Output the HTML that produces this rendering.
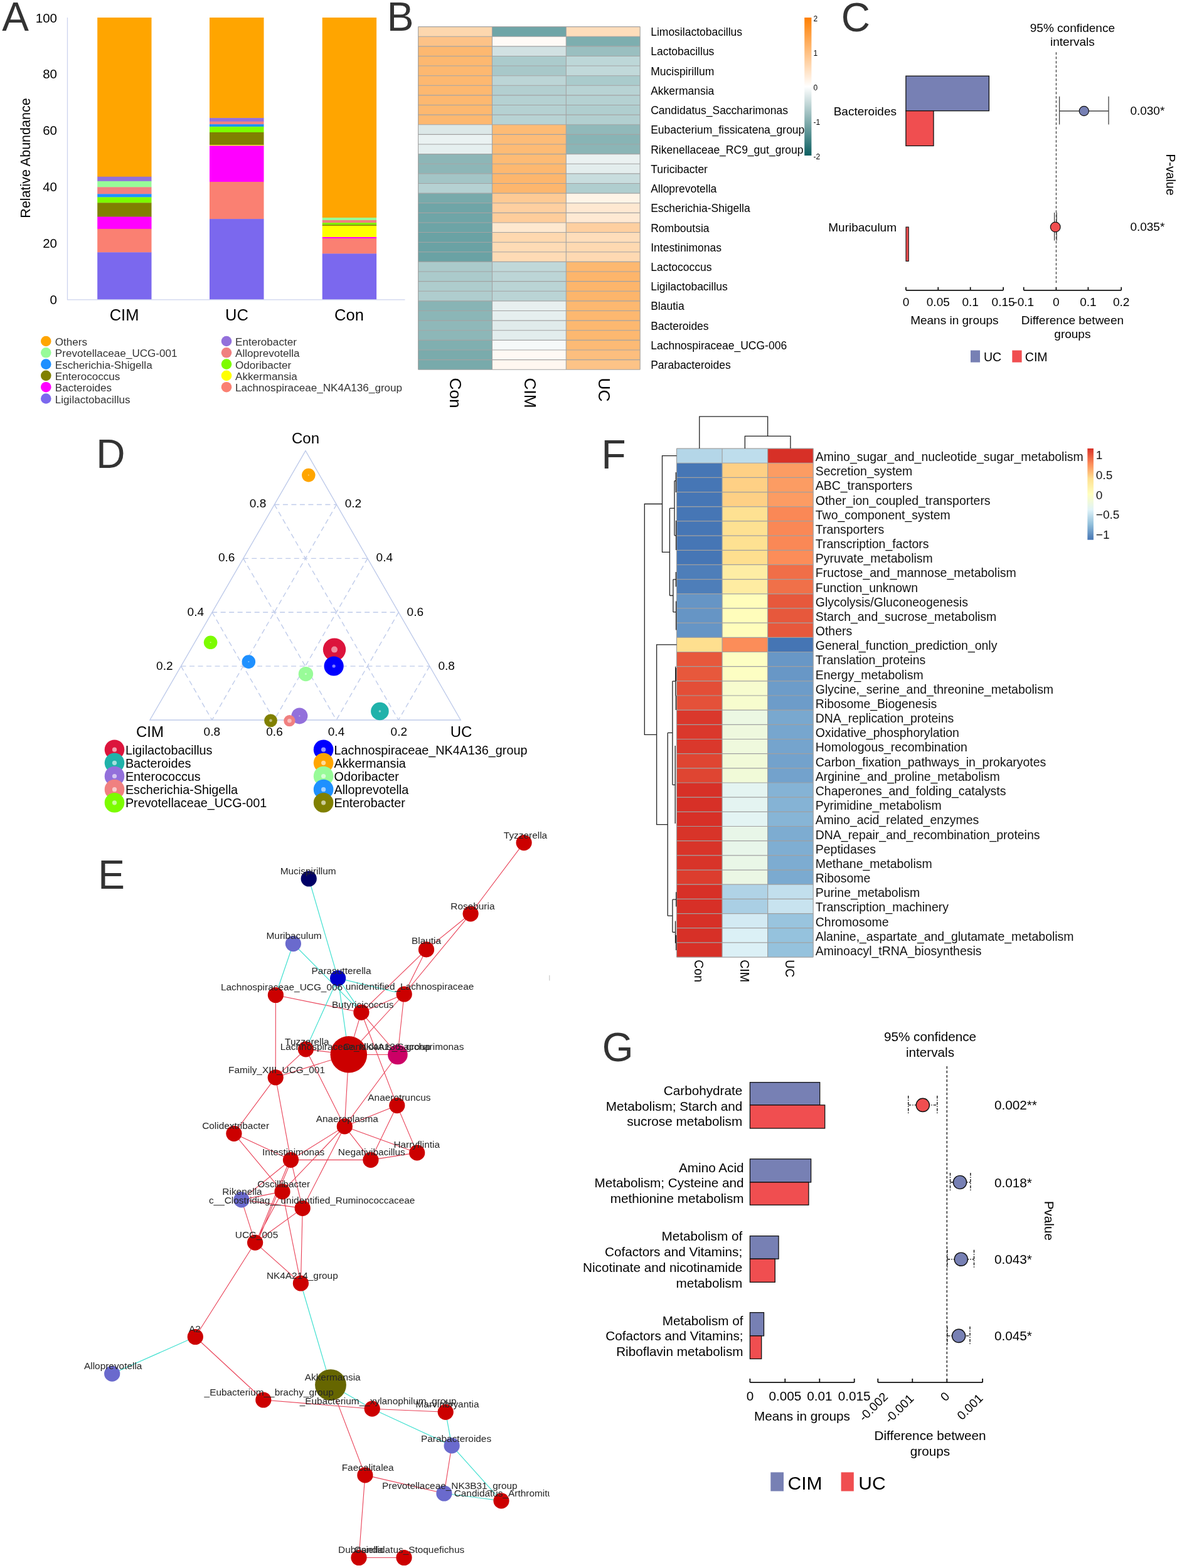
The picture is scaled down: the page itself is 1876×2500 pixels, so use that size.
<!DOCTYPE html>
<html><head><meta charset="utf-8"><title>Figure</title>
<style>
html,body{margin:0;padding:0;background:#fff;}
body{width:1876px;height:2500px;overflow:hidden;}
svg{display:block;}
text{dominant-baseline:central;}
</style></head><body>
<svg width="1876" height="2500" viewBox="0 0 1876 2500" font-family='"Liberation Sans", Arial, Helvetica, sans-serif' dominant-baseline="central">
<text x="24.6" y="48.7" font-size="64" text-anchor="middle" fill="#333" dominant-baseline="alphabetic" style="dominant-baseline:alphabetic">A</text>
<rect x="155.2" y="28" width="86.3" height="254" fill="#FFA500"/>
<rect x="155.2" y="281.7" width="86.3" height="7.4" fill="#9370DB"/>
<rect x="155.2" y="288.8" width="86.3" height="9.8" fill="#98FB98"/>
<rect x="155.2" y="298.3" width="86.3" height="11.3" fill="#F08080"/>
<rect x="155.2" y="309.3" width="86.3" height="5.4" fill="#1E90FF"/>
<rect x="155.2" y="314.4" width="86.3" height="9.2" fill="#7CFC00"/>
<rect x="155.2" y="323.3" width="86.3" height="22.6" fill="#808000"/>
<rect x="155.2" y="345.6" width="86.3" height="19.6" fill="#FF00FF"/>
<rect x="155.2" y="364.9" width="86.3" height="37.7" fill="#FA8072"/>
<rect x="155.2" y="402.3" width="86.3" height="75.5" fill="#7B68EE"/>
<rect x="334" y="28" width="86.5" height="160.4" fill="#FFA500"/>
<rect x="334" y="188.1" width="86.5" height="5.9" fill="#9370DB"/>
<rect x="334" y="193.7" width="86.5" height="4.7" fill="#F08080"/>
<rect x="334" y="198.1" width="86.5" height="4.1" fill="#1E90FF"/>
<rect x="334" y="201.9" width="86.5" height="9.3" fill="#7CFC00"/>
<rect x="334" y="210.9" width="86.5" height="20.5" fill="#808000"/>
<rect x="334" y="231.1" width="86.5" height="1.5" fill="#FFFF00"/>
<rect x="334" y="232.3" width="86.5" height="57.9" fill="#FF00FF"/>
<rect x="334" y="289.9" width="86.5" height="59.5" fill="#FA8072"/>
<rect x="334" y="349.1" width="86.5" height="128.7" fill="#7B68EE"/>
<rect x="513.7" y="28" width="86.4" height="319.3" fill="#FFA500"/>
<rect x="513.7" y="347" width="86.4" height="4.3" fill="#98FB98"/>
<rect x="513.7" y="351" width="86.4" height="4.5" fill="#F08080"/>
<rect x="513.7" y="355.2" width="86.4" height="3.4" fill="#7CFC00"/>
<rect x="513.7" y="358.3" width="86.4" height="1.9" fill="#808000"/>
<rect x="513.7" y="359.9" width="86.4" height="18.4" fill="#FFFF00"/>
<rect x="513.7" y="378" width="86.4" height="2.4" fill="#FF00FF"/>
<rect x="513.7" y="380.1" width="86.4" height="24.6" fill="#FA8072"/>
<rect x="513.7" y="404.4" width="86.4" height="73.4" fill="#7B68EE"/>
<line x1="107.5" y1="28" x2="107.5" y2="478" stroke="#ccd3ee" stroke-width="1.3"/>
<line x1="107" y1="477.8" x2="645.5" y2="477.8" stroke="#ccd3ee" stroke-width="1.3"/>
<text x="91" y="477.5" font-size="20.5" text-anchor="end">0</text>
<text x="91" y="387.6" font-size="20.5" text-anchor="end">20</text>
<text x="91" y="297.7" font-size="20.5" text-anchor="end">40</text>
<text x="91" y="207.8" font-size="20.5" text-anchor="end">60</text>
<text x="91" y="117.9" font-size="20.5" text-anchor="end">80</text>
<text x="91" y="28" font-size="20.5" text-anchor="end">100</text>
<text transform="translate(41.2 252) rotate(-90)" font-size="21.5" text-anchor="middle">Relative Abundance</text>
<text x="198" y="502" font-size="25.5" text-anchor="middle">CIM</text>
<text x="377.5" y="502" font-size="25.5" text-anchor="middle">UC</text>
<text x="556.5" y="502" font-size="25.5" text-anchor="middle">Con</text>
<circle cx="73.3" cy="544" r="8.3" fill="#FFA500"/>
<text x="87.8" y="545.6" font-size="17.1" fill="#333">Others</text>
<circle cx="73.3" cy="562.3" r="8.3" fill="#98FB98"/>
<text x="87.8" y="563.9" font-size="17.1" fill="#333">Prevotellaceae_UCG-001</text>
<circle cx="73.3" cy="580.6" r="8.3" fill="#1E90FF"/>
<text x="87.8" y="582.2" font-size="17.1" fill="#333">Escherichia-Shigella</text>
<circle cx="73.3" cy="598.9" r="8.3" fill="#808000"/>
<text x="87.8" y="600.5" font-size="17.1" fill="#333">Enterococcus</text>
<circle cx="73.3" cy="617.2" r="8.3" fill="#FF00FF"/>
<text x="87.8" y="618.8" font-size="17.1" fill="#333">Bacteroides</text>
<circle cx="73.3" cy="635.5" r="8.3" fill="#7B68EE"/>
<text x="87.8" y="637.1" font-size="17.1" fill="#333">Ligilactobacillus</text>
<circle cx="361" cy="544" r="8.3" fill="#9370DB"/>
<text x="375" y="545.6" font-size="17.1" fill="#333">Enterobacter</text>
<circle cx="361" cy="562.3" r="8.3" fill="#F08080"/>
<text x="375" y="563.9" font-size="17.1" fill="#333">Alloprevotella</text>
<circle cx="361" cy="580.6" r="8.3" fill="#7CFC00"/>
<text x="375" y="582.2" font-size="17.1" fill="#333">Odoribacter</text>
<circle cx="361" cy="598.9" r="8.3" fill="#FFFF00"/>
<text x="375" y="600.5" font-size="17.1" fill="#333">Akkermansia</text>
<circle cx="361" cy="617.2" r="8.3" fill="#FA8072"/>
<text x="375" y="618.8" font-size="17.1" fill="#333">Lachnospiraceae_NK4A136_group</text>
<text x="638" y="49.4" font-size="64" text-anchor="middle" fill="#333" dominant-baseline="alphabetic" style="dominant-baseline:alphabetic">B</text>
<rect x="666.6" y="42.6" width="117.87" height="15.62" fill="#FDD7AE"/>
<rect x="784.47" y="42.6" width="117.87" height="15.62" fill="#6FA5A7"/>
<rect x="902.33" y="42.6" width="117.87" height="15.62" fill="#FEDDBB"/>
<rect x="666.6" y="58.22" width="117.87" height="15.62" fill="#FDC287"/>
<rect x="784.47" y="58.22" width="117.87" height="15.62" fill="#FFFAF6"/>
<rect x="902.33" y="58.22" width="117.87" height="15.62" fill="#7DAEAF"/>
<rect x="666.6" y="73.83" width="117.87" height="15.62" fill="#FDB870"/>
<rect x="784.47" y="73.83" width="117.87" height="15.62" fill="#D1E1E2"/>
<rect x="902.33" y="73.83" width="117.87" height="15.62" fill="#9ABFC0"/>
<rect x="666.6" y="89.45" width="117.87" height="15.62" fill="#FDB870"/>
<rect x="784.47" y="89.45" width="117.87" height="15.62" fill="#ABCBCC"/>
<rect x="902.33" y="89.45" width="117.87" height="15.62" fill="#BDD7D8"/>
<rect x="666.6" y="105.07" width="117.87" height="15.62" fill="#FDB870"/>
<rect x="784.47" y="105.07" width="117.87" height="15.62" fill="#A8C8C9"/>
<rect x="902.33" y="105.07" width="117.87" height="15.62" fill="#C1D9DA"/>
<rect x="666.6" y="120.69" width="117.87" height="15.62" fill="#FDB870"/>
<rect x="784.47" y="120.69" width="117.87" height="15.62" fill="#BCD5D6"/>
<rect x="902.33" y="120.69" width="117.87" height="15.62" fill="#AACBCC"/>
<rect x="666.6" y="136.3" width="117.87" height="15.62" fill="#FDB870"/>
<rect x="784.47" y="136.3" width="117.87" height="15.62" fill="#B3CFD0"/>
<rect x="902.33" y="136.3" width="117.87" height="15.62" fill="#B8D3D4"/>
<rect x="666.6" y="151.92" width="117.87" height="15.62" fill="#FDB870"/>
<rect x="784.47" y="151.92" width="117.87" height="15.62" fill="#B5D1D2"/>
<rect x="902.33" y="151.92" width="117.87" height="15.62" fill="#B5D1D2"/>
<rect x="666.6" y="167.54" width="117.87" height="15.62" fill="#FDB870"/>
<rect x="784.47" y="167.54" width="117.87" height="15.62" fill="#B5D1D2"/>
<rect x="902.33" y="167.54" width="117.87" height="15.62" fill="#B0CECF"/>
<rect x="666.6" y="183.15" width="117.87" height="15.62" fill="#FDB870"/>
<rect x="784.47" y="183.15" width="117.87" height="15.62" fill="#B8D3D4"/>
<rect x="902.33" y="183.15" width="117.87" height="15.62" fill="#B2CFD0"/>
<rect x="666.6" y="198.77" width="117.87" height="15.62" fill="#DCE8E8"/>
<rect x="784.47" y="198.77" width="117.87" height="15.62" fill="#FDBB75"/>
<rect x="902.33" y="198.77" width="117.87" height="15.62" fill="#91B9BA"/>
<rect x="666.6" y="214.39" width="117.87" height="15.62" fill="#EAF2F2"/>
<rect x="784.47" y="214.39" width="117.87" height="15.62" fill="#FDBC78"/>
<rect x="902.33" y="214.39" width="117.87" height="15.62" fill="#88B4B5"/>
<rect x="666.6" y="230.01" width="117.87" height="15.62" fill="#E5EFEF"/>
<rect x="784.47" y="230.01" width="117.87" height="15.62" fill="#FDBB75"/>
<rect x="902.33" y="230.01" width="117.87" height="15.62" fill="#8BB5B6"/>
<rect x="666.6" y="245.62" width="117.87" height="15.62" fill="#8DB6B7"/>
<rect x="784.47" y="245.62" width="117.87" height="15.62" fill="#FDBB75"/>
<rect x="902.33" y="245.62" width="117.87" height="15.62" fill="#EAF1F1"/>
<rect x="666.6" y="261.24" width="117.87" height="15.62" fill="#8DB6B7"/>
<rect x="784.47" y="261.24" width="117.87" height="15.62" fill="#FDB870"/>
<rect x="902.33" y="261.24" width="117.87" height="15.62" fill="#E3EDED"/>
<rect x="666.6" y="276.86" width="117.87" height="15.62" fill="#A3C5C6"/>
<rect x="784.47" y="276.86" width="117.87" height="15.62" fill="#FDB66D"/>
<rect x="902.33" y="276.86" width="117.87" height="15.62" fill="#C8DDDE"/>
<rect x="666.6" y="292.47" width="117.87" height="15.62" fill="#B5D1D2"/>
<rect x="784.47" y="292.47" width="117.87" height="15.62" fill="#FDB66D"/>
<rect x="902.33" y="292.47" width="117.87" height="15.62" fill="#B0CECF"/>
<rect x="666.6" y="308.09" width="117.87" height="15.62" fill="#78AAAB"/>
<rect x="784.47" y="308.09" width="117.87" height="15.62" fill="#FECA94"/>
<rect x="902.33" y="308.09" width="117.87" height="15.62" fill="#FEF4E7"/>
<rect x="666.6" y="323.71" width="117.87" height="15.62" fill="#6FA5A7"/>
<rect x="784.47" y="323.71" width="117.87" height="15.62" fill="#FECFA0"/>
<rect x="902.33" y="323.71" width="117.87" height="15.62" fill="#FEE8D1"/>
<rect x="666.6" y="339.33" width="117.87" height="15.62" fill="#6FA5A7"/>
<rect x="784.47" y="339.33" width="117.87" height="15.62" fill="#FECD9B"/>
<rect x="902.33" y="339.33" width="117.87" height="15.62" fill="#FEE9D3"/>
<rect x="666.6" y="354.94" width="117.87" height="15.62" fill="#6DA4A6"/>
<rect x="784.47" y="354.94" width="117.87" height="15.62" fill="#FEE8CF"/>
<rect x="902.33" y="354.94" width="117.87" height="15.62" fill="#FECFA0"/>
<rect x="666.6" y="370.56" width="117.87" height="15.62" fill="#6AA2A4"/>
<rect x="784.47" y="370.56" width="117.87" height="15.62" fill="#FED8AF"/>
<rect x="902.33" y="370.56" width="117.87" height="15.62" fill="#FEDDBA"/>
<rect x="666.6" y="386.18" width="117.87" height="15.62" fill="#6AA2A4"/>
<rect x="784.47" y="386.18" width="117.87" height="15.62" fill="#FEDBB5"/>
<rect x="902.33" y="386.18" width="117.87" height="15.62" fill="#FED9B1"/>
<rect x="666.6" y="401.79" width="117.87" height="15.62" fill="#6AA2A4"/>
<rect x="784.47" y="401.79" width="117.87" height="15.62" fill="#FEDBB5"/>
<rect x="902.33" y="401.79" width="117.87" height="15.62" fill="#FED9B2"/>
<rect x="666.6" y="417.41" width="117.87" height="15.62" fill="#ABCACB"/>
<rect x="784.47" y="417.41" width="117.87" height="15.62" fill="#C0D8D9"/>
<rect x="902.33" y="417.41" width="117.87" height="15.62" fill="#FDB870"/>
<rect x="666.6" y="433.03" width="117.87" height="15.62" fill="#ABCACB"/>
<rect x="784.47" y="433.03" width="117.87" height="15.62" fill="#BCD5D6"/>
<rect x="902.33" y="433.03" width="117.87" height="15.62" fill="#FDB56B"/>
<rect x="666.6" y="448.65" width="117.87" height="15.62" fill="#AECCCD"/>
<rect x="784.47" y="448.65" width="117.87" height="15.62" fill="#BAD4D5"/>
<rect x="902.33" y="448.65" width="117.87" height="15.62" fill="#FDB56B"/>
<rect x="666.6" y="464.26" width="117.87" height="15.62" fill="#AFCDCE"/>
<rect x="784.47" y="464.26" width="117.87" height="15.62" fill="#BAD4D5"/>
<rect x="902.33" y="464.26" width="117.87" height="15.62" fill="#FDB56B"/>
<rect x="666.6" y="479.88" width="117.87" height="15.62" fill="#88B4B5"/>
<rect x="784.47" y="479.88" width="117.87" height="15.62" fill="#E8F0F0"/>
<rect x="902.33" y="479.88" width="117.87" height="15.62" fill="#FDB870"/>
<rect x="666.6" y="495.5" width="117.87" height="15.62" fill="#8BB6B7"/>
<rect x="784.47" y="495.5" width="117.87" height="15.62" fill="#E6EFEF"/>
<rect x="902.33" y="495.5" width="117.87" height="15.62" fill="#FDB870"/>
<rect x="666.6" y="511.11" width="117.87" height="15.62" fill="#8FB8B9"/>
<rect x="784.47" y="511.11" width="117.87" height="15.62" fill="#E0EBEB"/>
<rect x="902.33" y="511.11" width="117.87" height="15.62" fill="#FDB870"/>
<rect x="666.6" y="526.73" width="117.87" height="15.62" fill="#8DB7B8"/>
<rect x="784.47" y="526.73" width="117.87" height="15.62" fill="#E2EDED"/>
<rect x="902.33" y="526.73" width="117.87" height="15.62" fill="#FDB870"/>
<rect x="666.6" y="542.35" width="117.87" height="15.62" fill="#80AFB0"/>
<rect x="784.47" y="542.35" width="117.87" height="15.62" fill="#F6F9F9"/>
<rect x="902.33" y="542.35" width="117.87" height="15.62" fill="#FDBA75"/>
<rect x="666.6" y="557.97" width="117.87" height="15.62" fill="#7AABAC"/>
<rect x="784.47" y="557.97" width="117.87" height="15.62" fill="#FFF9F4"/>
<rect x="902.33" y="557.97" width="117.87" height="15.62" fill="#FDBE7E"/>
<rect x="666.6" y="573.58" width="117.87" height="15.62" fill="#78AAAB"/>
<rect x="784.47" y="573.58" width="117.87" height="15.62" fill="#FFF7F0"/>
<rect x="902.33" y="573.58" width="117.87" height="15.62" fill="#FDC387"/>
<path d="M666.6 42.6H1020.2M666.6 58.22H1020.2M666.6 73.83H1020.2M666.6 89.45H1020.2M666.6 105.07H1020.2M666.6 120.69H1020.2M666.6 136.3H1020.2M666.6 151.92H1020.2M666.6 167.54H1020.2M666.6 183.15H1020.2M666.6 198.77H1020.2M666.6 214.39H1020.2M666.6 230.01H1020.2M666.6 245.62H1020.2M666.6 261.24H1020.2M666.6 276.86H1020.2M666.6 292.47H1020.2M666.6 308.09H1020.2M666.6 323.71H1020.2M666.6 339.33H1020.2M666.6 354.94H1020.2M666.6 370.56H1020.2M666.6 386.18H1020.2M666.6 401.79H1020.2M666.6 417.41H1020.2M666.6 433.03H1020.2M666.6 448.65H1020.2M666.6 464.26H1020.2M666.6 479.88H1020.2M666.6 495.5H1020.2M666.6 511.11H1020.2M666.6 526.73H1020.2M666.6 542.35H1020.2M666.6 557.97H1020.2M666.6 573.58H1020.2M666.6 589.2H1020.2M666.6 42.6V589.2M784.47 42.6V589.2M902.33 42.6V589.2M1020.2 42.6V589.2" stroke="#a3a3a3" stroke-width="1.1" fill="none"/>
<text x="1037.2" y="51.21" font-size="17.5">Limosilactobacillus</text>
<text x="1037.2" y="82.44" font-size="17.5">Lactobacillus</text>
<text x="1037.2" y="113.68" font-size="17.5">Mucispirillum</text>
<text x="1037.2" y="144.91" font-size="17.5">Akkermansia</text>
<text x="1037.2" y="176.15" font-size="17.5">Candidatus_Saccharimonas</text>
<text x="1037.2" y="207.38" font-size="17.5">Eubacterium_fissicatena_group</text>
<text x="1037.2" y="238.61" font-size="17.5">Rikenellaceae_RC9_gut_group</text>
<text x="1037.2" y="269.85" font-size="17.5">Turicibacter</text>
<text x="1037.2" y="301.08" font-size="17.5">Alloprevotella</text>
<text x="1037.2" y="332.32" font-size="17.5">Escherichia-Shigella</text>
<text x="1037.2" y="363.55" font-size="17.5">Romboutsia</text>
<text x="1037.2" y="394.79" font-size="17.5">Intestinimonas</text>
<text x="1037.2" y="426.02" font-size="17.5">Lactococcus</text>
<text x="1037.2" y="457.25" font-size="17.5">Ligilactobacillus</text>
<text x="1037.2" y="488.49" font-size="17.5">Blautia</text>
<text x="1037.2" y="519.72" font-size="17.5">Bacteroides</text>
<text x="1037.2" y="550.96" font-size="17.5">Lachnospiraceae_UCG-006</text>
<text x="1037.2" y="582.19" font-size="17.5">Parabacteroides</text>
<text transform="translate(726.2 602.5) rotate(90)" font-size="26.3">Con</text>
<text transform="translate(844.6 602.5) rotate(90)" font-size="26.3">CIM</text>
<text transform="translate(962.6 602.5) rotate(90)" font-size="26.3">UC</text>
<defs><linearGradient id="gb" x1="0" y1="0" x2="0" y2="1"><stop offset="0" stop-color="#FF7F00"/><stop offset="0.5" stop-color="#FFFFFF"/><stop offset="1" stop-color="#0B5E60"/></linearGradient></defs>
<rect x="1282.2" y="28" width="11.2" height="220" fill="url(#gb)"/>
<text x="1296.5" y="30.3" font-size="12">2</text>
<text x="1296.5" y="85.1" font-size="12">1</text>
<text x="1296.5" y="140.4" font-size="12">0</text>
<text x="1296.5" y="195.3" font-size="12">-1</text>
<text x="1296.5" y="250.2" font-size="12">-2</text>
<text x="1363.9" y="49.5" font-size="64" text-anchor="middle" fill="#333" dominant-baseline="alphabetic" style="dominant-baseline:alphabetic">C</text>
<text x="1709.4" y="44" font-size="19" text-anchor="middle">95% confidence</text>
<text x="1709.4" y="66" font-size="19" text-anchor="middle">intervals</text>
<line x1="1683.4" y1="83.3" x2="1683.4" y2="451" stroke="#222" stroke-width="1.1" stroke-dasharray="4 3"/>
<rect x="1443.9" y="121.2" width="132.5" height="55.5" fill="#7780B4" stroke="#111" stroke-width="1.3"/>
<rect x="1443.9" y="176.7" width="44.1" height="55.8" fill="#F04E50" stroke="#111" stroke-width="1.3"/>
<rect x="1444" y="362" width="4.2" height="54.4" fill="#F04E50" stroke="#111" stroke-width="1.1"/>
<text x="1429" y="177" font-size="19" text-anchor="end">Bacteroides</text>
<text x="1429" y="362" font-size="19" text-anchor="end">Muribaculum</text>
<path d="M1688.6 177H1767M1688.6 153.7V198.5M1767 153.7V198.5" stroke="#444" stroke-width="1.3" fill="none"/>
<circle cx="1727.8" cy="177" r="7.6" fill="#7780B4" stroke="#111" stroke-width="1.2"/>
<path d="M1680.6 339V383.4M1684.1 339V383.4" stroke="#444" stroke-width="1.3" fill="none"/>
<circle cx="1682.2" cy="362" r="7.9" fill="#F04E50" stroke="#111" stroke-width="1.2"/>
<text x="1801.4" y="176.4" font-size="19">0.030*</text>
<text x="1801.4" y="361.6" font-size="19">0.035*</text>
<text transform="translate(1865.5 278.5) rotate(90)" font-size="19.5" text-anchor="middle">P-value</text>
<path d="M1444 462.8H1599.1M1444 462.8V457.8M1495.3 462.8V457.8M1546.7 462.8V457.8M1599.1 462.8V457.8M1631.7 462.8H1787.2M1631.7 462.8V457.8M1683.4 462.8V457.8M1734.4 462.8V457.8M1787.2 462.8V457.8" stroke="#111" stroke-width="1.8" fill="none"/>
<text x="1444" y="481.6" font-size="19" text-anchor="middle">0</text>
<text x="1495.3" y="481.6" font-size="19" text-anchor="middle">0.05</text>
<text x="1546.7" y="481.6" font-size="19" text-anchor="middle">0.1</text>
<text x="1599.1" y="481.6" font-size="19" text-anchor="middle">0.15</text>
<text x="1631.7" y="481.6" font-size="19" text-anchor="middle">-0.1</text>
<text x="1683.4" y="481.6" font-size="19" text-anchor="middle">0</text>
<text x="1734.4" y="481.6" font-size="19" text-anchor="middle">0.1</text>
<text x="1787.2" y="481.6" font-size="19" text-anchor="middle">0.2</text>
<text x="1521.4" y="510" font-size="19" text-anchor="middle">Means in groups</text>
<text x="1709.4" y="510" font-size="19" text-anchor="middle">Difference between</text>
<text x="1709.4" y="532.6" font-size="19" text-anchor="middle">groups</text>
<rect x="1547" y="558.6" width="15" height="19.1" fill="#7780B4"/>
<text x="1568" y="569" font-size="19.5">UC</text>
<rect x="1613.3" y="558.6" width="15.3" height="19.1" fill="#F04E50"/>
<text x="1633.8" y="569" font-size="19.5">CIM</text>
<text x="176.3" y="746.4" font-size="64" text-anchor="middle" fill="#333" dominant-baseline="alphabetic" style="dominant-baseline:alphabetic">D</text>
<path d="M288.52 1062.12L684.76 1062.12M437.38 804.48L635.14 1148M536.44 804.48L337.96 1148M338.14 976.24L635.32 976.24M387.76 890.36L536.08 1148M585.88 890.36L437.02 1148M387.76 890.36L585.88 890.36M338.14 976.24L437.02 1148M635.32 976.24L536.08 1148M437.38 804.48L536.44 804.48M288.52 1062.12L337.96 1148M684.76 1062.12L635.14 1148" stroke="#bfcbea" stroke-width="1.4" fill="none" stroke-dasharray="8 5.5"/>
<path d="M487 718.6L238.9 1148L734.2 1148Z" stroke="#bfcbea" stroke-width="1.4" fill="none"/>
<text x="487" y="698" font-size="24" text-anchor="middle">Con</text>
<text x="239" y="1166.6" font-size="24" text-anchor="middle">CIM</text>
<text x="735" y="1166.6" font-size="24" text-anchor="middle">UC</text>
<text x="411" y="802.3" font-size="19" text-anchor="middle">0.8</text>
<text x="361.2" y="888.6" font-size="19" text-anchor="middle">0.6</text>
<text x="311.8" y="975.3" font-size="19" text-anchor="middle">0.4</text>
<text x="262.3" y="1061.2" font-size="19" text-anchor="middle">0.2</text>
<text x="562.9" y="802.3" font-size="19" text-anchor="middle">0.2</text>
<text x="612.8" y="888.6" font-size="19" text-anchor="middle">0.4</text>
<text x="661.8" y="975.3" font-size="19" text-anchor="middle">0.6</text>
<text x="711.7" y="1061.2" font-size="19" text-anchor="middle">0.8</text>
<text x="337.8" y="1166.6" font-size="19" text-anchor="middle">0.8</text>
<text x="437.5" y="1166.6" font-size="19" text-anchor="middle">0.6</text>
<text x="536" y="1166.6" font-size="19" text-anchor="middle">0.4</text>
<text x="635.8" y="1166.6" font-size="19" text-anchor="middle">0.2</text>
<circle cx="491.8" cy="757.6" r="10.8" fill="#FFA500"/>
<circle cx="491.8" cy="757.6" r="1" fill="#ffffff" fill-opacity="0.5"/>
<circle cx="335.6" cy="1024.3" r="10.8" fill="#7CFC00"/>
<circle cx="335.6" cy="1024.3" r="1" fill="#ffffff" fill-opacity="0.5"/>
<circle cx="396.3" cy="1055.1" r="10.8" fill="#1E90FF"/>
<circle cx="396.3" cy="1055.1" r="1" fill="#ffffff" fill-opacity="0.5"/>
<circle cx="533" cy="1035.6" r="18.2" fill="#DC143C"/>
<circle cx="533" cy="1035.6" r="5" fill="#ffffff" fill-opacity="0.5"/>
<circle cx="532.1" cy="1062" r="15.6" fill="#0000FF"/>
<circle cx="532.1" cy="1062" r="2.6" fill="#ffffff" fill-opacity="0.5"/>
<circle cx="487.4" cy="1074.6" r="11.7" fill="#98FB98"/>
<circle cx="487.4" cy="1074.6" r="1.5" fill="#ffffff" fill-opacity="0.5"/>
<circle cx="605.4" cy="1134" r="14.3" fill="#20B2AA"/>
<circle cx="605.4" cy="1134" r="1.8" fill="#ffffff" fill-opacity="0.5"/>
<circle cx="477.4" cy="1141.4" r="13" fill="#9370DB"/>
<circle cx="477.4" cy="1141.4" r="1" fill="#ffffff" fill-opacity="0.5"/>
<circle cx="461.4" cy="1149.2" r="9.1" fill="#F08080"/>
<circle cx="461.4" cy="1149.2" r="3.3" fill="#ffffff" fill-opacity="0.5"/>
<circle cx="431.5" cy="1148.8" r="10.4" fill="#808000"/>
<circle cx="431.5" cy="1148.8" r="2.4" fill="#ffffff" fill-opacity="0.5"/>
<circle cx="182.5" cy="1195.2" r="15.8" fill="#DC143C"/>
<circle cx="182.5" cy="1195.2" r="3.6" fill="#ffffff" fill-opacity="0.6"/>
<circle cx="182.5" cy="1216.35" r="15.8" fill="#20B2AA"/>
<circle cx="182.5" cy="1216.35" r="3.6" fill="#ffffff" fill-opacity="0.6"/>
<circle cx="182.5" cy="1237.5" r="15.8" fill="#9370DB"/>
<circle cx="182.5" cy="1237.5" r="3.6" fill="#ffffff" fill-opacity="0.6"/>
<circle cx="182.5" cy="1258.65" r="15.8" fill="#F08080"/>
<circle cx="182.5" cy="1258.65" r="3.6" fill="#ffffff" fill-opacity="0.6"/>
<circle cx="182.5" cy="1279.8" r="15.8" fill="#7CFC00"/>
<circle cx="182.5" cy="1279.8" r="3.6" fill="#ffffff" fill-opacity="0.6"/>
<text x="199.9" y="1195.7" font-size="19.8">Ligilactobacillus</text>
<text x="199.9" y="1216.85" font-size="19.8">Bacteroides</text>
<text x="199.9" y="1238" font-size="19.8">Enterococcus</text>
<text x="199.9" y="1259.15" font-size="19.8">Escherichia-Shigella</text>
<text x="199.9" y="1280.3" font-size="19.8">Prevotellaceae_UCG-001</text>
<circle cx="515.6" cy="1195.2" r="15.8" fill="#0000FF"/>
<circle cx="515.6" cy="1195.2" r="3.6" fill="#ffffff" fill-opacity="0.6"/>
<circle cx="515.6" cy="1216.35" r="15.8" fill="#FFA500"/>
<circle cx="515.6" cy="1216.35" r="3.6" fill="#ffffff" fill-opacity="0.6"/>
<circle cx="515.6" cy="1237.5" r="15.8" fill="#98FB98"/>
<circle cx="515.6" cy="1237.5" r="3.6" fill="#ffffff" fill-opacity="0.6"/>
<circle cx="515.6" cy="1258.65" r="15.8" fill="#1E90FF"/>
<circle cx="515.6" cy="1258.65" r="3.6" fill="#ffffff" fill-opacity="0.6"/>
<circle cx="515.6" cy="1279.8" r="15.8" fill="#808000"/>
<circle cx="515.6" cy="1279.8" r="3.6" fill="#ffffff" fill-opacity="0.6"/>
<text x="532.5" y="1195.7" font-size="19.8">Lachnospiraceae_NK4A136_group</text>
<text x="532.5" y="1216.85" font-size="19.8">Akkermansia</text>
<text x="532.5" y="1238" font-size="19.8">Odoribacter</text>
<text x="532.5" y="1259.15" font-size="19.8">Alloprevotella</text>
<text x="532.5" y="1280.3" font-size="19.8">Enterobacter</text>
<text x="177.6" y="1417.2" font-size="64" text-anchor="middle" fill="#333" dominant-baseline="alphabetic" style="dominant-baseline:alphabetic">E</text>
<path d="M835.1 1343.6L750.1 1456.8M750.1 1456.8L679.5 1513.9M750.1 1456.8L644.2 1585M679.5 1513.9L575.9 1614.2M679.5 1513.9L644.2 1585M644.2 1585L575.9 1614.2M644.2 1585L555.8 1681.3M644.2 1585L633.9 1681.5M439.4 1586.5L575.9 1614.2M439.4 1586.5L439.2 1717.8M575.9 1614.2L555.8 1681.3M575.9 1614.2L633.9 1681.5M575.9 1614.2L632.8 1762.6M487.4 1672.8L555.8 1681.3M487.4 1672.8L439.2 1717.8M487.4 1672.8L549.3 1795.9M439.2 1717.8L555.8 1681.3M555.8 1681.3L633.9 1681.5M555.8 1681.3L549.3 1795.9M633.9 1681.5L549.3 1795.9M439.2 1717.8L372.9 1807.3M439.2 1717.8L463.5 1849.3M549.3 1795.9L632.8 1762.6M549.3 1795.9L664.7 1837.9M549.3 1795.9L590.9 1849.4M549.3 1795.9L463.5 1849.3M549.3 1795.9L450 1899.9M549.3 1795.9L482.2 1926.4M632.8 1762.6L590.9 1849.4M632.8 1762.6L664.7 1837.9M590.9 1849.4L664.7 1837.9M463.5 1849.3L590.9 1849.4M372.9 1807.3L463.5 1849.3M372.9 1807.3L450 1899.9M463.5 1849.3L384.9 1912.9M463.5 1849.3L482.2 1926.4M384.9 1912.9L450 1899.9M384.9 1912.9L482.2 1926.4M384.9 1912.9L406.6 1981.2M450 1899.9L406.6 1981.2M450 1899.9L479.4 2046M482.2 1926.4L479.4 2046M482.2 1926.4L406.6 1981.2M406.6 1981.2L479.4 2046M406.6 1981.2L311.3 2131.5M311.3 2131.5L419.8 2232M419.8 2232L593.2 2246.2M593.2 2246.2L710.2 2251.3M527 2208.1L581.9 2351.9M720.1 2304.9L707.9 2381M581.9 2351.9L707.9 2381M581.9 2351.9L572 2483.5M572 2483.5L644 2483.5M462 1849.3L407.8 1981.2M464.7 1849.3L409.8 1981.2" stroke="#E8374E" stroke-width="1.1" fill="none" stroke-opacity="0.95"/>
<path d="M492.2 1401L538.6 1559.7M467.4 1504.6L439.4 1586.5M467.4 1504.6L575.9 1614.2M538.6 1559.7L487.4 1672.8M538.6 1559.7L555.8 1681.3M538.6 1559.7L575.9 1614.2M538.6 1559.7L644.2 1585M479.4 2046L527 2208.1M311.3 2131.5L178.7 2190.2M527 2208.1L593.2 2246.2M593.2 2246.2L720.1 2304.9M710.2 2251.3L720.1 2304.9M720.1 2304.9L799 2392.8M707.9 2381L799 2392.8" stroke="#40E0D0" stroke-width="1.2" fill="none"/>
<circle cx="835.1" cy="1343.6" r="12.6" fill="#CC0000"/>
<circle cx="492.2" cy="1401" r="12.6" fill="#000066"/>
<circle cx="750.1" cy="1456.8" r="12.6" fill="#CC0000"/>
<circle cx="467.4" cy="1504.6" r="12.6" fill="#6A6ACD"/>
<circle cx="679.5" cy="1513.9" r="12.6" fill="#CC0000"/>
<circle cx="538.6" cy="1559.7" r="12.6" fill="#0000CC"/>
<circle cx="439.4" cy="1586.5" r="12.6" fill="#CC0000"/>
<circle cx="644.2" cy="1585" r="12.6" fill="#CC0000"/>
<circle cx="575.9" cy="1614.2" r="12.6" fill="#CC0000"/>
<circle cx="487.4" cy="1672.8" r="12.6" fill="#CC0000"/>
<circle cx="555.8" cy="1681.3" r="29.3" fill="#CC0000"/>
<circle cx="633.9" cy="1681.5" r="15.8" fill="#CC0066"/>
<circle cx="439.2" cy="1717.8" r="12.6" fill="#CC0000"/>
<circle cx="632.8" cy="1762.6" r="12.6" fill="#CC0000"/>
<circle cx="549.3" cy="1795.9" r="12.6" fill="#CC0000"/>
<circle cx="372.9" cy="1807.3" r="12.6" fill="#CC0000"/>
<circle cx="664.7" cy="1837.9" r="12.6" fill="#CC0000"/>
<circle cx="463.5" cy="1849.3" r="12.6" fill="#CC0000"/>
<circle cx="590.9" cy="1849.4" r="12.6" fill="#CC0000"/>
<circle cx="450" cy="1899.9" r="12.6" fill="#CC0000"/>
<circle cx="384.9" cy="1912.9" r="12.6" fill="#6A6ACD"/>
<circle cx="482.2" cy="1926.4" r="12.6" fill="#CC0000"/>
<circle cx="406.6" cy="1981.2" r="12.6" fill="#CC0000"/>
<circle cx="479.4" cy="2046" r="12.6" fill="#CC0000"/>
<circle cx="311.3" cy="2131.5" r="12.6" fill="#CC0000"/>
<circle cx="178.7" cy="2190.2" r="12.6" fill="#6A6ACD"/>
<circle cx="527" cy="2208.1" r="24.9" fill="#666600"/>
<circle cx="419.8" cy="2232" r="12.6" fill="#CC0000"/>
<circle cx="593.2" cy="2246.2" r="12.6" fill="#CC0000"/>
<circle cx="710.2" cy="2251.3" r="12.6" fill="#CC0000"/>
<circle cx="720.1" cy="2304.9" r="12.6" fill="#6A6ACD"/>
<circle cx="581.9" cy="2351.9" r="12.6" fill="#CC0000"/>
<circle cx="707.9" cy="2381" r="12.6" fill="#6A6ACD"/>
<circle cx="799" cy="2392.8" r="12.6" fill="#CC0000"/>
<circle cx="572" cy="2483.5" r="12.6" fill="#CC0000"/>
<circle cx="644" cy="2483.5" r="12.6" fill="#CC0000"/>
<g clip-path="url(#clipE)">
<text x="837.5" y="1331" font-size="15.4" text-anchor="middle" fill="#262626">Tyzzerella</text>
<text x="491.2" y="1388.3" font-size="15.4" text-anchor="middle" fill="#262626">Mucispirillum</text>
<text x="753.4" y="1444.3" font-size="15.4" text-anchor="middle" fill="#262626">Roseburia</text>
<text x="468.6" y="1491.6" font-size="15.4" text-anchor="middle" fill="#262626">Muribaculum</text>
<text x="679.5" y="1499.9" font-size="15.4" text-anchor="middle" fill="#262626">Blautia</text>
<text x="544.1" y="1547.5" font-size="15.4" text-anchor="middle" fill="#262626">Parasutterella</text>
<text x="449" y="1573.5" font-size="15.4" text-anchor="middle" fill="#262626">Lachnospiraceae_UCG_006</text>
<text x="653" y="1572" font-size="15.4" text-anchor="middle" fill="#262626">unidentified_Lachnospiraceae</text>
<text x="578.3" y="1601.2" font-size="15.4" text-anchor="middle" fill="#262626">Butyricicoccus</text>
<text x="489.3" y="1660.3" font-size="15.4" text-anchor="middle" fill="#262626">Tuzzerella</text>
<text x="566.5" y="1668" font-size="15.4" text-anchor="middle" fill="#262626">Lachnospiraceae_NK4A136_group</text>
<text x="643.1" y="1668.2" font-size="15.4" text-anchor="middle" fill="#262626">Candidatus_Saccharimonas</text>
<text x="441" y="1705" font-size="15.4" text-anchor="middle" fill="#262626">Family_XIII_UCG_001</text>
<text x="636.4" y="1749.6" font-size="15.4" text-anchor="middle" fill="#262626">Anaerotruncus</text>
<text x="553.3" y="1783.1" font-size="15.4" text-anchor="middle" fill="#262626">Anaeroplasma</text>
<text x="375.6" y="1794.5" font-size="15.4" text-anchor="middle" fill="#262626">Colidextribacter</text>
<text x="664.2" y="1824.9" font-size="15.4" text-anchor="middle" fill="#262626">Harryflintia</text>
<text x="467.7" y="1836.7" font-size="15.4" text-anchor="middle" fill="#262626">Intestinimonas</text>
<text x="592.3" y="1836.7" font-size="15.4" text-anchor="middle" fill="#262626">Negativibacillus</text>
<text x="452.2" y="1887.6" font-size="15.4" text-anchor="middle" fill="#262626">Oscillibacter</text>
<text x="386" y="1899.9" font-size="15.4" text-anchor="middle" fill="#262626">Rikenella</text>
<text x="332.9" y="1913.4" font-size="15.4" fill="#262626">c__Clostridiag__unidentified_Ruminococcaceae</text>
<text x="409" y="1968" font-size="15.4" text-anchor="middle" fill="#262626">UCG_005</text>
<text x="481.8" y="2033.3" font-size="15.4" text-anchor="middle" fill="#262626">NK4A214_group</text>
<text x="310.3" y="2118.8" font-size="15.4" text-anchor="middle" fill="#262626">A2</text>
<text x="180.2" y="2177.5" font-size="15.4" text-anchor="middle" fill="#262626">Alloprevotella</text>
<text x="530.2" y="2195.4" font-size="15.4" text-anchor="middle" fill="#262626">Akkermansia</text>
<text x="428.7" y="2219.8" font-size="15.4" text-anchor="middle" fill="#262626">_Eubacterium__brachy_group</text>
<text x="602.6" y="2233" font-size="15.4" text-anchor="middle" fill="#262626">_Eubacterium__xylanophilum_group</text>
<text x="713" y="2238.6" font-size="15.4" text-anchor="middle" fill="#262626">Marvinbryantia</text>
<text x="727.1" y="2293.1" font-size="15.4" text-anchor="middle" fill="#262626">Parabacteroides</text>
<text x="586.2" y="2339.7" font-size="15.4" text-anchor="middle" fill="#262626">Faecalitalea</text>
<text x="716.8" y="2368.3" font-size="15.4" text-anchor="middle" fill="#262626">Prevotellaceae_NK3B31_group</text>
<text x="723.7" y="2380.1" font-size="15.4" fill="#262626">Candidatus_Arthromitus</text>
<text x="575" y="2470.8" font-size="15.4" text-anchor="middle" fill="#262626">Dubosiella</text>
<text x="652.5" y="2470.8" font-size="15.4" text-anchor="middle" fill="#262626">Candidatus_Stoquefichus</text>
</g>
<line x1="875.8" y1="1555" x2="875.8" y2="1563.5" stroke="#c8c8c8" stroke-width="1.2"/>
<defs><clipPath id="clipE"><rect x="0" y="1300" width="876" height="1200"/></clipPath></defs>
<text x="978" y="746.8" font-size="64" text-anchor="middle" fill="#333" dominant-baseline="alphabetic" style="dominant-baseline:alphabetic">F</text>
<rect x="1078.5" y="715.1" width="72.57" height="23.17" fill="#b4d6e8"/>
<rect x="1151.07" y="715.1" width="72.57" height="23.17" fill="#beddec"/>
<rect x="1223.63" y="715.1" width="72.57" height="23.17" fill="#d73027"/>
<rect x="1078.5" y="738.27" width="72.57" height="23.17" fill="#4676b5"/>
<rect x="1151.07" y="738.27" width="72.57" height="23.17" fill="#fed085"/>
<rect x="1223.63" y="738.27" width="72.57" height="23.17" fill="#fc9c63"/>
<rect x="1078.5" y="761.44" width="72.57" height="23.17" fill="#4676b5"/>
<rect x="1151.07" y="761.44" width="72.57" height="23.17" fill="#fed085"/>
<rect x="1223.63" y="761.44" width="72.57" height="23.17" fill="#fc9c63"/>
<rect x="1078.5" y="784.61" width="72.57" height="23.17" fill="#4676b5"/>
<rect x="1151.07" y="784.61" width="72.57" height="23.17" fill="#fed085"/>
<rect x="1223.63" y="784.61" width="72.57" height="23.17" fill="#fc9c63"/>
<rect x="1078.5" y="807.78" width="72.57" height="23.17" fill="#4676b5"/>
<rect x="1151.07" y="807.78" width="72.57" height="23.17" fill="#fee192"/>
<rect x="1223.63" y="807.78" width="72.57" height="23.17" fill="#fa8856"/>
<rect x="1078.5" y="830.95" width="72.57" height="23.17" fill="#4676b5"/>
<rect x="1151.07" y="830.95" width="72.57" height="23.17" fill="#fee192"/>
<rect x="1223.63" y="830.95" width="72.57" height="23.17" fill="#fa8856"/>
<rect x="1078.5" y="854.12" width="72.57" height="23.17" fill="#4676b5"/>
<rect x="1151.07" y="854.12" width="72.57" height="23.17" fill="#fee192"/>
<rect x="1223.63" y="854.12" width="72.57" height="23.17" fill="#fa8856"/>
<rect x="1078.5" y="877.29" width="72.57" height="23.17" fill="#4676b5"/>
<rect x="1151.07" y="877.29" width="72.57" height="23.17" fill="#fedf8f"/>
<rect x="1223.63" y="877.29" width="72.57" height="23.17" fill="#fc8d59"/>
<rect x="1078.5" y="900.46" width="72.57" height="23.17" fill="#4e7eb9"/>
<rect x="1151.07" y="900.46" width="72.57" height="23.17" fill="#feeda4"/>
<rect x="1223.63" y="900.46" width="72.57" height="23.17" fill="#f06e48"/>
<rect x="1078.5" y="923.63" width="72.57" height="23.17" fill="#4e7eb9"/>
<rect x="1151.07" y="923.63" width="72.57" height="23.17" fill="#feeca2"/>
<rect x="1223.63" y="923.63" width="72.57" height="23.17" fill="#f07049"/>
<rect x="1078.5" y="946.8" width="72.57" height="23.17" fill="#6695c5"/>
<rect x="1151.07" y="946.8" width="72.57" height="23.17" fill="#fffdbb"/>
<rect x="1223.63" y="946.8" width="72.57" height="23.17" fill="#e7583c"/>
<rect x="1078.5" y="969.97" width="72.57" height="23.17" fill="#6695c5"/>
<rect x="1151.07" y="969.97" width="72.57" height="23.17" fill="#fffdbb"/>
<rect x="1223.63" y="969.97" width="72.57" height="23.17" fill="#e7583c"/>
<rect x="1078.5" y="993.14" width="72.57" height="23.17" fill="#6695c5"/>
<rect x="1151.07" y="993.14" width="72.57" height="23.17" fill="#fffdbb"/>
<rect x="1223.63" y="993.14" width="72.57" height="23.17" fill="#e7583c"/>
<rect x="1078.5" y="1016.31" width="72.57" height="23.17" fill="#fedf8f"/>
<rect x="1151.07" y="1016.31" width="72.57" height="23.17" fill="#fc8d59"/>
<rect x="1223.63" y="1016.31" width="72.57" height="23.17" fill="#4575b4"/>
<rect x="1078.5" y="1039.48" width="72.57" height="23.17" fill="#e7583c"/>
<rect x="1151.07" y="1039.48" width="72.57" height="23.17" fill="#fdfec3"/>
<rect x="1223.63" y="1039.48" width="72.57" height="23.17" fill="#6897c6"/>
<rect x="1078.5" y="1062.65" width="72.57" height="23.17" fill="#e7583c"/>
<rect x="1151.07" y="1062.65" width="72.57" height="23.17" fill="#fdfec3"/>
<rect x="1223.63" y="1062.65" width="72.57" height="23.17" fill="#6897c6"/>
<rect x="1078.5" y="1085.82" width="72.57" height="23.17" fill="#e34e37"/>
<rect x="1151.07" y="1085.82" width="72.57" height="23.17" fill="#f7fcce"/>
<rect x="1223.63" y="1085.82" width="72.57" height="23.17" fill="#6d9cc9"/>
<rect x="1078.5" y="1108.99" width="72.57" height="23.17" fill="#e45139"/>
<rect x="1151.07" y="1108.99" width="72.57" height="23.17" fill="#f7fcce"/>
<rect x="1223.63" y="1108.99" width="72.57" height="23.17" fill="#6d9cc9"/>
<rect x="1078.5" y="1132.16" width="72.57" height="23.17" fill="#da382c"/>
<rect x="1151.07" y="1132.16" width="72.57" height="23.17" fill="#ecf8e3"/>
<rect x="1223.63" y="1132.16" width="72.57" height="23.17" fill="#79a8cf"/>
<rect x="1078.5" y="1155.33" width="72.57" height="23.17" fill="#da382c"/>
<rect x="1151.07" y="1155.33" width="72.57" height="23.17" fill="#eef8de"/>
<rect x="1223.63" y="1155.33" width="72.57" height="23.17" fill="#77a6ce"/>
<rect x="1078.5" y="1178.5" width="72.57" height="23.17" fill="#da382c"/>
<rect x="1151.07" y="1178.5" width="72.57" height="23.17" fill="#eff9dd"/>
<rect x="1223.63" y="1178.5" width="72.57" height="23.17" fill="#75a4cd"/>
<rect x="1078.5" y="1201.67" width="72.57" height="23.17" fill="#df4532"/>
<rect x="1151.07" y="1201.67" width="72.57" height="23.17" fill="#f1fad8"/>
<rect x="1223.63" y="1201.67" width="72.57" height="23.17" fill="#73a2cc"/>
<rect x="1078.5" y="1224.84" width="72.57" height="23.17" fill="#df4532"/>
<rect x="1151.07" y="1224.84" width="72.57" height="23.17" fill="#f1fad8"/>
<rect x="1223.63" y="1224.84" width="72.57" height="23.17" fill="#73a2cc"/>
<rect x="1078.5" y="1248.01" width="72.57" height="23.17" fill="#d73027"/>
<rect x="1151.07" y="1248.01" width="72.57" height="23.17" fill="#e4f4f1"/>
<rect x="1223.63" y="1248.01" width="72.57" height="23.17" fill="#85b3d5"/>
<rect x="1078.5" y="1271.18" width="72.57" height="23.17" fill="#d73027"/>
<rect x="1151.07" y="1271.18" width="72.57" height="23.17" fill="#e4f4f1"/>
<rect x="1223.63" y="1271.18" width="72.57" height="23.17" fill="#85b3d5"/>
<rect x="1078.5" y="1294.35" width="72.57" height="23.17" fill="#d73027"/>
<rect x="1151.07" y="1294.35" width="72.57" height="23.17" fill="#e3f4f3"/>
<rect x="1223.63" y="1294.35" width="72.57" height="23.17" fill="#87b5d6"/>
<rect x="1078.5" y="1317.52" width="72.57" height="23.17" fill="#d83429"/>
<rect x="1151.07" y="1317.52" width="72.57" height="23.17" fill="#e8f6e8"/>
<rect x="1223.63" y="1317.52" width="72.57" height="23.17" fill="#7dacd1"/>
<rect x="1078.5" y="1340.69" width="72.57" height="23.17" fill="#d83429"/>
<rect x="1151.07" y="1340.69" width="72.57" height="23.17" fill="#e8f6ea"/>
<rect x="1223.63" y="1340.69" width="72.57" height="23.17" fill="#7faed2"/>
<rect x="1078.5" y="1363.86" width="72.57" height="23.17" fill="#d83429"/>
<rect x="1151.07" y="1363.86" width="72.57" height="23.17" fill="#e9f7e7"/>
<rect x="1223.63" y="1363.86" width="72.57" height="23.17" fill="#7dacd1"/>
<rect x="1078.5" y="1387.03" width="72.57" height="23.17" fill="#dc3d2e"/>
<rect x="1151.07" y="1387.03" width="72.57" height="23.17" fill="#ebf7e4"/>
<rect x="1223.63" y="1387.03" width="72.57" height="23.17" fill="#7baad0"/>
<rect x="1078.5" y="1410.2" width="72.57" height="23.17" fill="#d73027"/>
<rect x="1151.07" y="1410.2" width="72.57" height="23.17" fill="#b0d3e6"/>
<rect x="1223.63" y="1410.2" width="72.57" height="23.17" fill="#c2dfed"/>
<rect x="1078.5" y="1433.37" width="72.57" height="23.17" fill="#d73027"/>
<rect x="1151.07" y="1433.37" width="72.57" height="23.17" fill="#aacfe4"/>
<rect x="1223.63" y="1433.37" width="72.57" height="23.17" fill="#c8e3ef"/>
<rect x="1078.5" y="1456.54" width="72.57" height="23.17" fill="#d73027"/>
<rect x="1151.07" y="1456.54" width="72.57" height="23.17" fill="#d3eaf3"/>
<rect x="1223.63" y="1456.54" width="72.57" height="23.17" fill="#99c4de"/>
<rect x="1078.5" y="1479.71" width="72.57" height="23.17" fill="#d73027"/>
<rect x="1151.07" y="1479.71" width="72.57" height="23.17" fill="#dbf0f6"/>
<rect x="1223.63" y="1479.71" width="72.57" height="23.17" fill="#95c2dd"/>
<rect x="1078.5" y="1502.88" width="72.57" height="23.17" fill="#d73027"/>
<rect x="1151.07" y="1502.88" width="72.57" height="23.17" fill="#dbf0f6"/>
<rect x="1223.63" y="1502.88" width="72.57" height="23.17" fill="#95c2dd"/>
<path d="M1078.5 715.1H1296.2M1078.5 738.27H1296.2M1078.5 761.44H1296.2M1078.5 784.61H1296.2M1078.5 807.78H1296.2M1078.5 830.95H1296.2M1078.5 854.12H1296.2M1078.5 877.29H1296.2M1078.5 900.46H1296.2M1078.5 923.63H1296.2M1078.5 946.8H1296.2M1078.5 969.97H1296.2M1078.5 993.14H1296.2M1078.5 1016.31H1296.2M1078.5 1039.48H1296.2M1078.5 1062.65H1296.2M1078.5 1085.82H1296.2M1078.5 1108.99H1296.2M1078.5 1132.16H1296.2M1078.5 1155.33H1296.2M1078.5 1178.5H1296.2M1078.5 1201.67H1296.2M1078.5 1224.84H1296.2M1078.5 1248.01H1296.2M1078.5 1271.18H1296.2M1078.5 1294.35H1296.2M1078.5 1317.52H1296.2M1078.5 1340.69H1296.2M1078.5 1363.86H1296.2M1078.5 1387.03H1296.2M1078.5 1410.2H1296.2M1078.5 1433.37H1296.2M1078.5 1456.54H1296.2M1078.5 1479.71H1296.2M1078.5 1502.88H1296.2M1078.5 1526.05H1296.2M1078.5 715.1V1526.05M1151.07 715.1V1526.05M1223.63 715.1V1526.05M1296.2 715.1V1526.05" stroke="#a0a0a0" stroke-width="1.2" fill="none"/>
<text x="1299.8" y="728.09" font-size="19.45" fill="#111">Amino_sugar_and_nucleotide_sugar_metabolism</text>
<text x="1299.8" y="751.25" font-size="19.45" fill="#111">Secretion_system</text>
<text x="1299.8" y="774.42" font-size="19.45" fill="#111">ABC_transporters</text>
<text x="1299.8" y="797.6" font-size="19.45" fill="#111">Other_ion_coupled_transporters</text>
<text x="1299.8" y="820.76" font-size="19.45" fill="#111">Two_component_system</text>
<text x="1299.8" y="843.94" font-size="19.45" fill="#111">Transporters</text>
<text x="1299.8" y="867.11" font-size="19.45" fill="#111">Transcription_factors</text>
<text x="1299.8" y="890.27" font-size="19.45" fill="#111">Pyruvate_metabolism</text>
<text x="1299.8" y="913.45" font-size="19.45" fill="#111">Fructose_and_mannose_metabolism</text>
<text x="1299.8" y="936.62" font-size="19.45" fill="#111">Function_unknown</text>
<text x="1299.8" y="959.78" font-size="19.45" fill="#111">Glycolysis/Gluconeogenesis</text>
<text x="1299.8" y="982.96" font-size="19.45" fill="#111">Starch_and_sucrose_metabolism</text>
<text x="1299.8" y="1006.12" font-size="19.45" fill="#111">Others</text>
<text x="1299.8" y="1029.3" font-size="19.45" fill="#111">General_function_prediction_only</text>
<text x="1299.8" y="1052.47" font-size="19.45" fill="#111">Translation_proteins</text>
<text x="1299.8" y="1075.64" font-size="19.45" fill="#111">Energy_metabolism</text>
<text x="1299.8" y="1098.81" font-size="19.45" fill="#111">Glycine,_serine_and_threonine_metabolism</text>
<text x="1299.8" y="1121.98" font-size="19.45" fill="#111">Ribosome_Biogenesis</text>
<text x="1299.8" y="1145.15" font-size="19.45" fill="#111">DNA_replication_proteins</text>
<text x="1299.8" y="1168.32" font-size="19.45" fill="#111">Oxidative_phosphorylation</text>
<text x="1299.8" y="1191.49" font-size="19.45" fill="#111">Homologous_recombination</text>
<text x="1299.8" y="1214.66" font-size="19.45" fill="#111">Carbon_fixation_pathways_in_prokaryotes</text>
<text x="1299.8" y="1237.83" font-size="19.45" fill="#111">Arginine_and_proline_metabolism</text>
<text x="1299.8" y="1261" font-size="19.45" fill="#111">Chaperones_and_folding_catalysts</text>
<text x="1299.8" y="1284.17" font-size="19.45" fill="#111">Pyrimidine_metabolism</text>
<text x="1299.8" y="1307.34" font-size="19.45" fill="#111">Amino_acid_related_enzymes</text>
<text x="1299.8" y="1330.51" font-size="19.45" fill="#111">DNA_repair_and_recombination_proteins</text>
<text x="1299.8" y="1353.68" font-size="19.45" fill="#111">Peptidases</text>
<text x="1299.8" y="1376.85" font-size="19.45" fill="#111">Methane_metabolism</text>
<text x="1299.8" y="1400.02" font-size="19.45" fill="#111">Ribosome</text>
<text x="1299.8" y="1423.19" font-size="19.45" fill="#111">Purine_metabolism</text>
<text x="1299.8" y="1446.36" font-size="19.45" fill="#111">Transcription_machinery</text>
<text x="1299.8" y="1469.53" font-size="19.45" fill="#111">Chromosome</text>
<text x="1299.8" y="1492.7" font-size="19.45" fill="#111">Alanine,_aspartate_and_glutamate_metabolism</text>
<text x="1299.8" y="1515.87" font-size="19.45" fill="#111">Aminoacyl_tRNA_biosynthesis</text>
<path d="M1114.78 715.1V664.1H1223.63V695.4M1187.35 715.1V695.4H1259.92V715.1" stroke="#222" stroke-width="1.3" fill="none"/>
<path d="M1078.5 726.69H1055.5V880.4H1067.4M1055.5 803.5H1027.3V1171.3H1046.6M1067.4 810.4V949.5M1075 810.4H1067.4M1072.9 949.5H1067.4M1075 766.7V853.8M1077.4 766.7H1075M1077.4 853.8H1075M1077.4 753V785M1077.6 830V877M1072.9 923.8V975.9M1077.4 923.8H1072.9M1077.4 975.9H1072.9M1077.4 912V935.5M1077.6 958.5V1004.5M1078.5 1027.89H1046.6V1314.6H1064.2M1064.2 1168.4V1460.2M1071.9 1168.4H1064.2M1071.9 1460.2H1064.2M1071.9 1086.1V1251.3M1076.7 1086.1H1071.9M1076.2 1251.3H1071.9M1076.7 1062.8V1109.3M1076.2 1189V1313M1077.4 1065V1086M1077.4 1109V1132M1071.9 1434.2V1486.3M1077.7 1434.2H1071.9M1076.5 1486.3H1071.9M1077.7 1422.3V1445.5M1076.5 1468.6V1503.8M1077.6 1491V1515" stroke="#222" stroke-width="1.3" fill="none"/>
<text transform="translate(1113.98 1530.2) rotate(90)" font-size="19.5">Con</text>
<text transform="translate(1186.55 1530.2) rotate(90)" font-size="19.5">CIM</text>
<text transform="translate(1259.12 1530.2) rotate(90)" font-size="19.5">UC</text>
<defs><linearGradient id="gf" x1="0" y1="0" x2="0" y2="1"><stop offset="0" stop-color="#D73027"/><stop offset="0.17" stop-color="#FC8D59"/><stop offset="0.33" stop-color="#FEE090"/><stop offset="0.5" stop-color="#FFFFBF"/><stop offset="0.67" stop-color="#E0F3F8"/><stop offset="0.83" stop-color="#91BFDB"/><stop offset="1" stop-color="#4575B4"/></linearGradient></defs>
<rect x="1733.3" y="715" width="9.6" height="145.7" fill="url(#gf)"/>
<text x="1746.8" y="725" font-size="19" fill="#111">1</text>
<text x="1746.8" y="757" font-size="19" fill="#111">0.5</text>
<text x="1746.8" y="789.3" font-size="19" fill="#111">0</text>
<text x="1746.8" y="820.6" font-size="19" fill="#111">−0.5</text>
<text x="1746.8" y="852.6" font-size="19" fill="#111">−1</text>
<text x="984.6" y="1692" font-size="64" text-anchor="middle" fill="#333" dominant-baseline="alphabetic" style="dominant-baseline:alphabetic">G</text>
<text x="1482.5" y="1652.9" font-size="20.7" text-anchor="middle">95% confidence</text>
<text x="1482.5" y="1677.3" font-size="20.7" text-anchor="middle">intervals</text>
<line x1="1509.3" y1="1700" x2="1509.3" y2="2195.6" stroke="#111" stroke-width="1.3" stroke-dasharray="4 3"/>
<rect x="1195.4" y="1725.7" width="111.3" height="36.2" fill="#7780B4" stroke="#111" stroke-width="1.3"/>
<rect x="1195.4" y="1761.9" width="119.3" height="37.1" fill="#F04E50" stroke="#111" stroke-width="1.3"/>
<rect x="1195.4" y="1847.9" width="97.2" height="37.1" fill="#7780B4" stroke="#111" stroke-width="1.3"/>
<rect x="1195.4" y="1885" width="93.5" height="36.2" fill="#F04E50" stroke="#111" stroke-width="1.3"/>
<rect x="1195.4" y="1970.6" width="45.6" height="36.6" fill="#7780B4" stroke="#111" stroke-width="1.3"/>
<rect x="1195.4" y="2007.2" width="39.9" height="37.1" fill="#F04E50" stroke="#111" stroke-width="1.3"/>
<rect x="1195.4" y="2092.7" width="22.1" height="37.2" fill="#7780B4" stroke="#111" stroke-width="1.3"/>
<rect x="1195.4" y="2129.9" width="18.3" height="36.6" fill="#F04E50" stroke="#111" stroke-width="1.3"/>
<text x="1183.2" y="1738.9" font-size="20.7" text-anchor="end">Carbohydrate</text>
<text x="1183.2" y="1763.3" font-size="20.7" text-anchor="end">Metabolism; Starch and</text>
<text x="1183.2" y="1787.8" font-size="20.7" text-anchor="end">sucrose metabolism</text>
<text x="1185.5" y="1861" font-size="20.7" text-anchor="end">Amino Acid</text>
<text x="1185.5" y="1885.5" font-size="20.7" text-anchor="end">Metabolism; Cysteine and</text>
<text x="1185.5" y="1910" font-size="20.7" text-anchor="end">methionine metabolism</text>
<text x="1183.2" y="1970.6" font-size="20.7" text-anchor="end">Metabolism of</text>
<text x="1183.2" y="1995.5" font-size="20.7" text-anchor="end">Cofactors and Vitamins;</text>
<text x="1183.2" y="2020.2" font-size="20.7" text-anchor="end">Nicotinate and nicotinamide</text>
<text x="1183.2" y="2045" font-size="20.7" text-anchor="end">metabolism</text>
<text x="1184.5" y="2105" font-size="20.7" text-anchor="end">Metabolism of</text>
<text x="1184.5" y="2129.9" font-size="20.7" text-anchor="end">Cofactors and Vitamins;</text>
<text x="1184.5" y="2154.3" font-size="20.7" text-anchor="end">Riboflavin metabolism</text>
<line x1="1447.7" y1="1761.9" x2="1493.8" y2="1761.9" stroke="#111" stroke-width="1.4" stroke-dasharray="4.5 2 1.5 2"/>
<line x1="1447.7" y1="1746.9" x2="1447.7" y2="1776.9" stroke="#111" stroke-width="1.4" stroke-dasharray="4.5 2 1.5 2"/>
<line x1="1493.8" y1="1746.9" x2="1493.8" y2="1776.9" stroke="#111" stroke-width="1.4" stroke-dasharray="4.5 2 1.5 2"/>
<circle cx="1470.8" cy="1761.9" r="10.6" fill="#F04E50" stroke="#111" stroke-width="1.4"/>
<line x1="1514.5" y1="1885" x2="1546.9" y2="1885" stroke="#111" stroke-width="1.4" stroke-dasharray="4.5 2 1.5 2"/>
<line x1="1514.5" y1="1870" x2="1514.5" y2="1900" stroke="#111" stroke-width="1.4" stroke-dasharray="4.5 2 1.5 2"/>
<line x1="1546.9" y1="1870" x2="1546.9" y2="1900" stroke="#111" stroke-width="1.4" stroke-dasharray="4.5 2 1.5 2"/>
<circle cx="1530" cy="1885" r="10.6" fill="#7780B4" stroke="#111" stroke-width="1.4"/>
<line x1="1509.8" y1="2007.7" x2="1552.5" y2="2007.7" stroke="#111" stroke-width="1.4" stroke-dasharray="4.5 2 1.5 2"/>
<line x1="1509.8" y1="1992.7" x2="1509.8" y2="2022.7" stroke="#111" stroke-width="1.4" stroke-dasharray="4.5 2 1.5 2"/>
<line x1="1552.5" y1="1992.7" x2="1552.5" y2="2022.7" stroke="#111" stroke-width="1.4" stroke-dasharray="4.5 2 1.5 2"/>
<circle cx="1531.8" cy="2007.7" r="10.6" fill="#7780B4" stroke="#111" stroke-width="1.4"/>
<line x1="1509.8" y1="2129.9" x2="1546" y2="2129.9" stroke="#111" stroke-width="1.4" stroke-dasharray="4.5 2 1.5 2"/>
<line x1="1509.8" y1="2114.9" x2="1509.8" y2="2144.9" stroke="#111" stroke-width="1.4" stroke-dasharray="4.5 2 1.5 2"/>
<line x1="1546" y1="2114.9" x2="1546" y2="2144.9" stroke="#111" stroke-width="1.4" stroke-dasharray="4.5 2 1.5 2"/>
<circle cx="1528.1" cy="2129.9" r="10.6" fill="#7780B4" stroke="#111" stroke-width="1.4"/>
<text x="1585" y="1761.9" font-size="20.7">0.002**</text>
<text x="1585" y="1885" font-size="20.7">0.018*</text>
<text x="1585" y="2007.7" font-size="20.7">0.043*</text>
<text x="1585" y="2129.9" font-size="20.7">0.045*</text>
<text transform="translate(1672.2 1946.3) rotate(90)" font-size="20.7" text-anchor="middle">Pvalue</text>
<path d="M1195.4 2204.1H1361.7M1195.4 2204.1V2198M1251.3 2204.1V2198M1306.3 2204.1V2198M1361.7 2204.1V2198M1399.3 2204.1H1566.1M1399.3 2204.1V2198M1454.3 2204.1V2198M1509.3 2204.1V2198M1566.1 2204.1V2198" stroke="#111" stroke-width="1.8" fill="none"/>
<text x="1195.4" y="2225.8" font-size="20.7" text-anchor="middle">0</text>
<text x="1251.3" y="2225.8" font-size="20.7" text-anchor="middle">0.005</text>
<text x="1306.3" y="2225.8" font-size="20.7" text-anchor="middle">0.01</text>
<text x="1361.7" y="2225.8" font-size="20.7" text-anchor="middle">0.015</text>
<text transform="translate(1411.4 2223.3) rotate(-45)" font-size="19.5" text-anchor="end">-0.002</text>
<text transform="translate(1452.6 2226.2) rotate(-45)" font-size="19.5" text-anchor="end">-0.001</text>
<text transform="translate(1509.8 2222.6) rotate(-45)" font-size="19.5" text-anchor="end">0</text>
<text transform="translate(1563 2225.5) rotate(-45)" font-size="19.5" text-anchor="end">0.001</text>
<text x="1278.5" y="2257.2" font-size="20.7" text-anchor="middle">Means in groups</text>
<text x="1482.5" y="2288.2" font-size="20.7" text-anchor="middle">Difference between</text>
<text x="1482.5" y="2313.2" font-size="20.7" text-anchor="middle">groups</text>
<rect x="1228.3" y="2347.4" width="20.7" height="30.1" fill="#7780B4"/>
<text x="1255.5" y="2364.8" font-size="30">CIM</text>
<rect x="1340.6" y="2347.4" width="20.2" height="30.1" fill="#F04E50"/>
<text x="1368.3" y="2364.8" font-size="30">UC</text>
</svg>
</body></html>
